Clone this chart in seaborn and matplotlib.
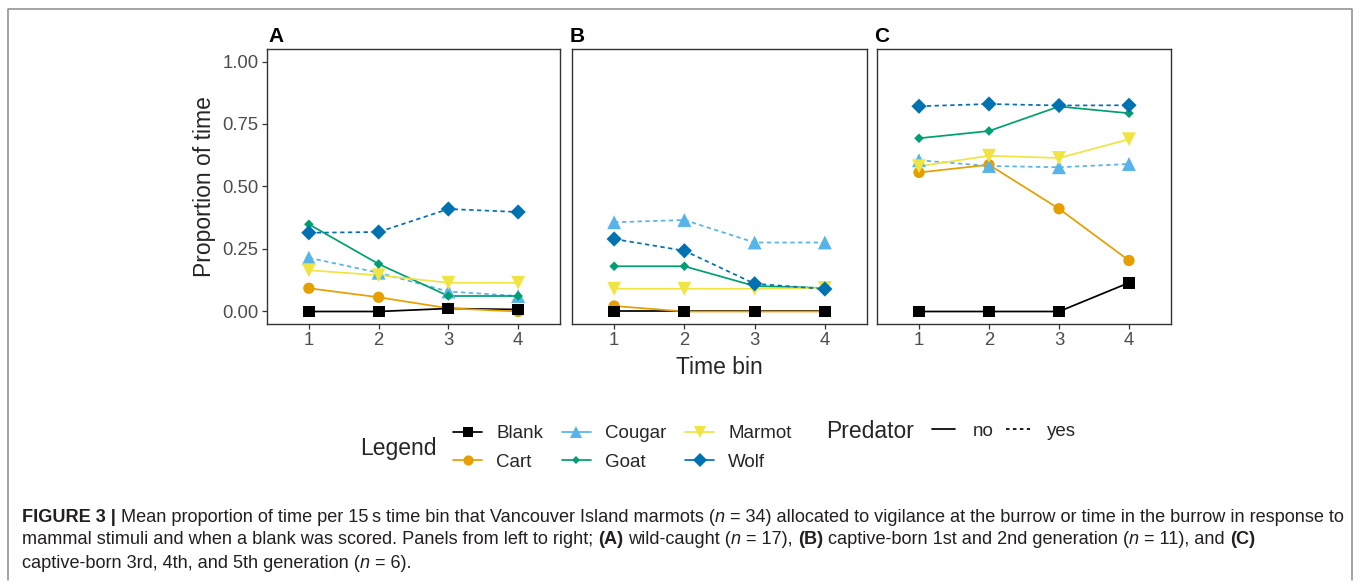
import numpy as np
import pandas as pd
import matplotlib
matplotlib.use("Agg")
import matplotlib.pyplot as plt
import seaborn as sns
from matplotlib.lines import Line2D

# ---------------- data ----------------
time_bins = [1, 2, 3, 4]
stimuli = ["Blank", "Cart", "Cougar", "Goat", "Marmot", "Wolf"]
predator = ["no", "no", "yes", "no", "no", "yes"]
panels = ["A", "B", "C"]

# Panel A: wild-caught
a_blank = [0.000, 0.000, 0.012, 0.008]
a_cart = [0.093, 0.057, 0.013, 0.000]
a_cougar = [0.215, 0.155, 0.080, 0.062]
a_goat = [0.349, 0.190, 0.062, 0.062]
a_marmot = [0.165, 0.145, 0.115, 0.115]
a_wolf = [0.315, 0.318, 0.410, 0.398]

# Panel B: captive-born 1st/2nd generation
b_blank = [0.000, 0.000, 0.000, 0.000]
b_cart = [0.022, 0.000, 0.000, 0.000]
b_cougar = [0.357, 0.366, 0.276, 0.276]
b_goat = [0.181, 0.181, 0.102, 0.094]
b_marmot = [0.091, 0.091, 0.091, 0.094]
b_wolf = [0.290, 0.243, 0.111, 0.090]

# Panel C: captive-born 3rd-5th generation
c_blank = [0.000, 0.000, 0.000, 0.115]
c_cart = [0.556, 0.587, 0.411, 0.204]
c_cougar = [0.605, 0.582, 0.577, 0.590]
c_goat = [0.693, 0.722, 0.820, 0.793]
c_marmot = [0.581, 0.623, 0.614, 0.689]
c_wolf = [0.821, 0.830, 0.824, 0.825]

panel_values = {
    "A": [a_blank, a_cart, a_cougar, a_goat, a_marmot, a_wolf],
    "B": [b_blank, b_cart, b_cougar, b_goat, b_marmot, b_wolf],
    "C": [c_blank, c_cart, c_cougar, c_goat, c_marmot, c_wolf],
}

y_ticks = [0.00, 0.25, 0.50, 0.75, 1.00]
y_tick_labels = ["0.00", "0.25", "0.50", "0.75", "1.00"]

rows = []
for p in panels:
    for s, pr, vals in zip(stimuli, predator, panel_values[p]):
        for b, v in zip(time_bins, vals):
            rows.append({"panel": p, "stimulus": s, "pred": pr, "bin": b, "prop": v})
df = pd.DataFrame(rows)

# ---------------- style ----------------
colors = {"Blank": "#000000", "Cart": "#E69F00", "Cougar": "#56B4E9",
          "Goat": "#009E73", "Marmot": "#F0E442", "Wolf": "#0072B2"}
markers = {"Blank": "s", "Cart": "o", "Cougar": "^", "Goat": "D",
           "Marmot": "v", "Wolf": "D"}
msizes = {"Blank": 74, "Cart": 66, "Cougar": 100, "Goat": 24,
          "Marmot": 100, "Wolf": 60}
point_z = {"Cart": 3.1, "Cougar": 3.2, "Goat": 3.3, "Marmot": 3.4,
           "Wolf": 3.5, "Blank": 3.6}
dash_map = {"no": "", "yes": (2.5, 2.0)}

sns.set_style("ticks")
plt.rcParams["font.family"] = ["Liberation Sans", "DejaVu Sans"]

W, H = 1360, 588
fig = plt.figure(figsize=(W / 100, H / 100), dpi=100)

def fx(px):
    return px / W

def fy(py):
    return 1 - py / H

axes_px = {"A": (267, 49, 560, 324), "B": (572, 49, 867, 324), "C": (877, 49, 1171, 324)}
label_px = {"A": 268, "B": 570, "C": 874}

for p in panels:
    l, t, r, b = axes_px[p]
    ax = fig.add_axes([fx(l), fy(b), (r - l) / W, (b - t) / H])
    sub_p = df[df["panel"] == p]
    for s in stimuli:
        sub = sub_p[sub_p["stimulus"] == s]
        sns.lineplot(data=sub, x="bin", y="prop", style="pred", dashes=dash_map,
                     color=colors[s], lw=1.25, errorbar=None, legend=False,
                     ax=ax, zorder=2)
    for s in ["Cart", "Cougar", "Goat", "Marmot", "Wolf", "Blank"]:
        sub = sub_p[sub_p["stimulus"] == s]
        sns.scatterplot(data=sub, x="bin", y="prop", marker=markers[s],
                        s=msizes[s], color=colors[s], edgecolor="none",
                        linewidth=0, legend=False, ax=ax, zorder=point_z[s])
    ax.set_xlim(0.4, 4.6)
    ax.set_ylim(-0.05, 1.05)
    ax.set_xticks(time_bins)
    ax.set_xticklabels([str(v) for v in time_bins])
    ax.set_yticks(y_ticks)
    ax.set_yticklabels(y_tick_labels)
    ax.set_xlabel("")
    ax.set_ylabel("")
    for sp in ax.spines.values():
        sp.set_visible(True)
        sp.set_color("#333333")
        sp.set_linewidth(1.0)
    ax.tick_params(axis="both", length=3.5, width=0.9, color="#333333",
                   labelsize=13.3, labelcolor="#4D4D4D", pad=2.5)
    if p != "A":
        ax.tick_params(axis="y", left=False, labelleft=False)
    fig.text(fx(label_px[p]), fy(36), p, fontsize=15, fontweight="bold",
             ha="left", va="center", color="black")

fig.text(fx(719), fy(368), "Time bin", fontsize=16.5, ha="center", va="center")
fig.text(fx(205), fy(187), "Proportion of time", fontsize=16.5, rotation=90,
         ha="center", va="center")

# ---------------- legends ----------------
leg_handles = [Line2D([0], [0], color=colors[s], marker=markers[s],
                      markersize=np.sqrt(msizes[s]) * 0.9, markeredgewidth=0,
                      lw=1.25) for s in stimuli]
fig.text(fx(360), fy(448), "Legend", fontsize=16.5, ha="left", va="center")
fig.legend(leg_handles, stimuli, loc="center left",
           bbox_to_anchor=(fx(453), fy(448)), ncol=3, frameon=False,
           fontsize=13.5, handlelength=1.55, handletextpad=0.75,
           columnspacing=1.0, labelspacing=0.6, borderpad=0, borderaxespad=0)

fig.text(fx(826), fy(431), "Predator", fontsize=16.5, ha="left", va="center")
pred_handles = [Line2D([0], [0], color="black", lw=1.25),
                Line2D([0], [0], color="black", lw=1.25, dashes=(2.0, 2.0))]
fig.legend(pred_handles, ["no", "yes"], loc="center left",
           bbox_to_anchor=(fx(932), fy(431)), ncol=2, frameon=False,
           fontsize=13.5, handlelength=1.25, handletextpad=0.9,
           columnspacing=0.7, borderpad=0, borderaxespad=0)

# ---------------- frame ----------------
fig.add_artist(Line2D([fx(8), fx(8), fx(1352), fx(1352)],
                      [fy(580), fy(9), fy(9), fy(580)],
                      transform=fig.transFigure, color="#8a8a8a", lw=1.1))

# ---------------- caption ----------------
cap_color = "#231F20"
caption_lines = [
    [("FIGURE 3 |", "bold", "normal"),
     (" Mean proportion of time per 15\u2009s time bin that Vancouver Island marmots (", "normal", "normal"),
     ("n", "normal", "italic"),
     (" = 34) allocated to vigilance at the burrow or time in the burrow in response to", "normal", "normal")],
    [("mammal stimuli and when a blank was scored. Panels from left to right; ", "normal", "normal"),
     ("(A)", "bold", "normal"),
     (" wild-caught (", "normal", "normal"),
     ("n", "normal", "italic"),
     (" = 17), ", "normal", "normal"),
     ("(B)", "bold", "normal"),
     (" captive-born 1st and 2nd generation (", "normal", "normal"),
     ("n", "normal", "italic"),
     (" = 11), and ", "normal", "normal"),
     ("(C)", "bold", "normal")],
    [("captive-born 3rd, 4th, and 5th generation (", "normal", "normal"),
     ("n", "normal", "italic"),
     (" = 6).", "normal", "normal")],
]
caption_y = [517, 540, 563]

renderer = fig.canvas.get_renderer()

def text_width(s, size, weight, style):
    t = fig.text(0, 0, s, fontsize=size, fontweight=weight, fontstyle=style)
    w = t.get_window_extent(renderer=renderer).width
    t.remove()
    return w

def advance(s, size, weight, style):
    if s == "":
        return 0.0
    return (text_width("|" + s + "|", size, weight, style)
            - text_width("||", size, weight, style))

def line_width(segs, size):
    return sum(advance(txt, size, w, st) for txt, w, st in segs)

base = 12.0
w0 = line_width(caption_lines[0], base)
cap_size = base * (1325.0 / w0)

for segs, ypx in zip(caption_lines, caption_y):
    xcur = 22.0
    for txt, wgt, sty in segs:
        core = txt.strip()
        lead = txt[:len(txt) - len(txt.lstrip())]
        trail = txt[len(txt.rstrip()):]
        xcur += advance(lead, cap_size, wgt, sty)
        fig.text(fx(xcur), fy(ypx), core, fontsize=cap_size, fontweight=wgt,
                 fontstyle=sty, ha="left", va="center", color=cap_color)
        xcur += advance(core, cap_size, wgt, sty) + advance(trail, cap_size, wgt, sty)

fig.savefig("out.png", dpi=100)
